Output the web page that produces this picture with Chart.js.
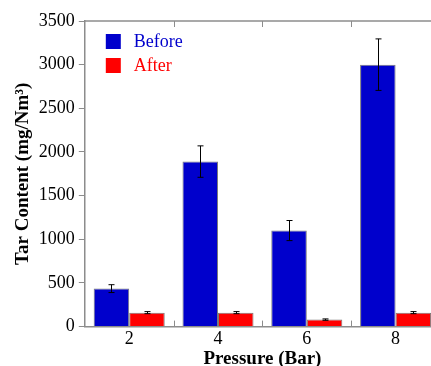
<!DOCTYPE html>
<html>
<head>
<meta charset="utf-8">
<script src="https://cdn.jsdelivr.net/npm/chart.js@4.4.1/dist/chart.umd.min.js"></script>
<style>
  html, body { margin: 0; padding: 0; background: #fff; overflow: hidden; }
  #wrap { position: relative; width: 440px; height: 370px; }
</style>
</head>
<body>
<div id="wrap"><canvas id="chart"></canvas></div>
<script>
var pressure_labels = ["2", "4", "6", "8"];
var tar_before = [435, 1890, 1100, 3000];
var tar_after = [160, 160, 80, 160];
var err_before = [45, 180, 115, 295];
var err_after = [12, 12, 8, 12];
var y_ticks = [0, 500, 1000, 1500, 2000, 2500, 3000, 3500];

var axisGray = "#8c8c8c";
var serif = "'Liberation Serif', 'Times New Roman', Times, serif";

// error bars, frame line, inward ticks and legend
var extrasPlugin = {
    id: "extras",
    afterDatasetsDraw: function(chart) {
        var ctx = chart.ctx;
        var y = chart.scales.y;
        var x = chart.scales.x;
        var area = chart.chartArea;
        var errs = [err_before, err_after];

        ctx.save();
        ctx.strokeStyle = "#000";
        ctx.lineWidth = 1;
        for (let d = 0; d < chart.data.datasets.length; d++) {
            var meta = chart.getDatasetMeta(d);
            var vals = chart.data.datasets[d].data;
            for (let i = 0; i < vals.length; i++) {
                var cx = Math.round(meta.data[i].x) + 0.5;
                var top = y.getPixelForValue(vals[i] + errs[d][i]);
                var bot = y.getPixelForValue(vals[i] - errs[d][i]);
                ctx.beginPath();
                ctx.moveTo(cx, top);
                ctx.lineTo(cx, bot);
                ctx.moveTo(cx - 3, top);
                ctx.lineTo(cx + 3, top);
                ctx.moveTo(cx - 3, bot);
                ctx.lineTo(cx + 3, bot);
                ctx.stroke();
            }
        }

        // top frame line
        ctx.strokeStyle = axisGray;
        ctx.lineWidth = 1.5;
        ctx.beginPath();
        ctx.moveTo(area.left, area.top);
        ctx.lineTo(area.right, area.top);
        ctx.stroke();

        // inward ticks between categories
        ctx.lineWidth = 1;
        for (let i = 1; i < pressure_labels.length; i++) {
            var bx = Math.round((x.getPixelForValue(i - 1) + x.getPixelForValue(i)) / 2) + 0.5;
            ctx.beginPath();
            ctx.moveTo(bx, area.bottom);
            ctx.lineTo(bx, area.bottom - 6);
            ctx.moveTo(bx, area.top);
            ctx.lineTo(bx, area.top + 6);
            ctx.stroke();
        }

        // legend inside plot
        ctx.font = "18px " + serif;
        ctx.textBaseline = "middle";
        ctx.textAlign = "left";
        for (let d = 0; d < chart.data.datasets.length; d++) {
            var ds = chart.data.datasets[d];
            var ly = area.top + 13 + d * 24;
            ctx.fillStyle = ds.backgroundColor;
            ctx.fillRect(area.left + 21, ly, 15, 15);
            ctx.fillStyle = ds.legendColor;
            ctx.fillText(ds.label, area.left + 49, ly + 8);
        }
        ctx.restore();
    }
};

var canvas = document.getElementById("chart");
const myChart = new Chart(canvas.getContext("2d"), {
    type: "bar",
    data: {
        labels: pressure_labels,
        datasets: [{
                label: "Before",
                data: tar_before,
                backgroundColor: "#0000cc",
                borderColor: "#7a7a7a",
                borderWidth: 1,
                legendColor: "#0000cc",
            },
            {
                label: "After",
                data: tar_after,
                backgroundColor: "#ff0000",
                borderColor: "#7a7a7a",
                borderWidth: 1,
                legendColor: "#ff0000",
            },
        ],
    },
    options: {
        responsive: true,
        maintainAspectRatio: false,
        animation: false,
        categoryPercentage: 0.8,
        barPercentage: 1.0,
        layout: {
            padding: { left: 4, top: 21, right: 0, bottom: 0 },
        },
        plugins: {
            legend: { display: false },
            tooltip: { enabled: false },
        },
        scales: {
            x: {
                grid: { display: false, drawTicks: false },
                border: { display: true, color: axisGray, width: 1.5 },
                ticks: {
                    padding: 2,
                    color: "#000",
                    font: { family: serif, size: 18 },
                },
                title: {
                    display: true,
                    text: "Pressure (Bar)",
                    color: "#000",
                    padding: { top: -5, bottom: 0 },
                    font: { family: serif, size: 19, weight: "bold" },
                },
            },
            y: {
                min: 0,
                max: 3500,
                afterBuildTicks: function(axis) {
                    axis.ticks = y_ticks.map(function(v) { return { value: v }; });
                },
                grid: {
                    drawOnChartArea: false,
                    drawTicks: true,
                    tickLength: 6,
                    tickColor: axisGray,
                },
                border: { display: true, color: axisGray, width: 1.5 },
                ticks: {
                    padding: 4,
                    color: "#000",
                    font: { family: serif, size: 18 },
                    callback: function(v) { return String(v); },
                },
                title: {
                    display: true,
                    text: "Tar Content (mg/Nm\u00b3)",
                    color: "#000",
                    padding: { top: 8, bottom: 0 },
                    font: { family: serif, size: 19, weight: "bold" },
                },
            },
        },
    },
    plugins: [extrasPlugin],
});
</script>
</body>
</html>
